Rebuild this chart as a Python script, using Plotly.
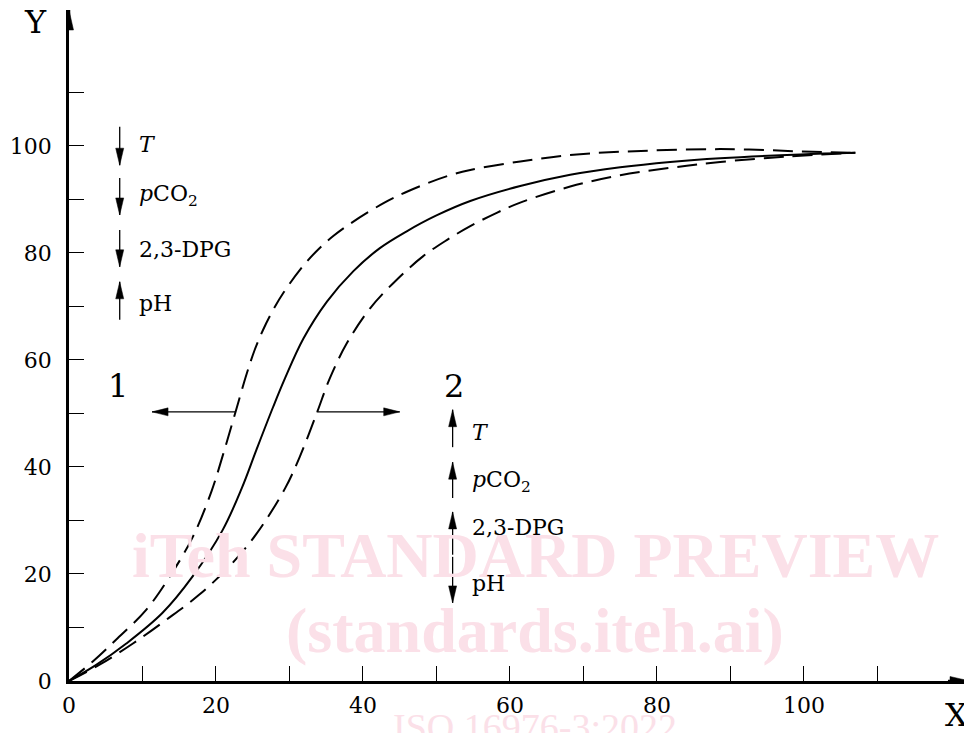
import plotly.graph_objects as go

# ---------------- data ----------------
solid_x = [0, 3.7, 7.8, 12.7, 16.8, 20.9, 23.5, 25.5, 27.8, 29.4, 31.9, 35.1, 38.7, 42.3, 45.9,
           50.0, 54.6, 61.4, 68.2, 75.0, 81.8, 88.6, 99.5, 107.0]
solid_y = [0, 3.0, 7.0, 12.7, 19.5, 28.2, 36.0, 43.2, 51.3, 56.6, 64.0, 70.9, 76.6, 80.9, 84.0,
           87.0, 89.7, 92.5, 94.6, 96.0, 97.0, 97.7, 98.4, 98.7]

left_x = [0, 3.2, 6.4, 10.5, 13.6, 16.8, 19.4, 21.0, 22.6, 24.2, 25.3, 26.4, 27.8, 29.2, 32.3,
          36.0, 42.8, 47.8, 51.8, 54.6, 61.4, 68.2, 75.0, 88.6, 101.2, 107.0]
left_y = [0, 3.6, 7.7, 13.3, 19.3, 26.8, 35.5, 42.5, 50.0, 57.5, 62.0, 65.6, 69.4, 72.6, 78.3,
          83.2, 89.3, 92.5, 94.5, 95.5, 97.1, 98.3, 98.9, 99.4, 98.9, 98.7]

right_x = [0, 4.1, 8.7, 13.2, 17.7, 21.8, 25.4, 29.4, 31.4, 33.7, 35.5, 37.8, 41.0, 44.6, 48.2,
           51.4, 54.6, 58.2, 61.4, 68.2, 75.0, 81.8, 88.6, 97.6, 107.0]
right_y = [0, 3.0, 7.0, 11.4, 16.1, 21.4, 27.3, 36.0, 41.9, 50.0, 56.6, 63.1, 69.7, 75.0, 79.4,
           82.4, 85.0, 87.5, 89.4, 92.4, 94.5, 95.9, 97.0, 98.0, 98.7]

x_tick_vals = [0, 10, 20, 30, 40, 50, 60, 70, 80, 90, 100, 110]
x_tick_text = ["0", "", "20", "", "40", "", "60", "", "80", "", "100", ""]
y_tick_vals = [0, 10, 20, 30, 40, 50, 60, 70, 80, 90, 100, 110]
y_tick_text = ["0", "", "20", "", "40", "", "60", "", "80", "", "100", ""]

factor_labels = ["<i>T</i>", "<i>p</i>CO<sub>2</sub>", "2,3-DPG", "pH"]

# ---------------- layout constants ----------------
W, H = 972, 733
OFF = 8                       # page body margin in the browser
# target plot box in page pixels: left 69, right 970, top 10, bottom 681
ML, MR, MT, MB = 69 - OFF, W + OFF - 970, 10 - OFF, H + OFF - 681
X_MAX = 122.6
Y_MAX = 125.4
FONT = "DejaVu Serif"
PINK = "rgb(251,224,232)"
pw, ph = W - ML - MR, H - MT - MB


def px2paper(px, py):
    """page pixel -> paper coordinates"""
    return (px - OFF - ML) / pw, (H - MB - (py - OFF)) / ph


fig = go.Figure()

line_style = dict(color="black", width=2, shape="spline", smoothing=1)
fig.add_trace(go.Scatter(x=solid_x, y=solid_y, mode="lines", line=line_style, hoverinfo="skip"))
fig.add_trace(go.Scatter(x=left_x, y=left_y, mode="lines",
                         line=dict(line_style, dash="20px,9px"), hoverinfo="skip"))
fig.add_trace(go.Scatter(x=right_x, y=right_y, mode="lines",
                         line=dict(line_style, dash="20px,9px"), hoverinfo="skip"))

shapes = []
annotations = []

# watermark first (drawn beneath the other texts)
wm = [("<b>iTeh STANDARD PREVIEW</b>", 535, 555, 64),
      ("<b>(standards.iteh.ai)</b>", 535, 630, 64),
      ("ISO 16976-3:2022", 535, 727, 38)]
for txt, px, py, sz in wm:
    xx, yy = px2paper(px, py)
    annotations.append(dict(x=xx, y=yy, xref="paper", yref="paper", text=txt, showarrow=False,
                            xanchor="center", yanchor="middle",
                            font=dict(family="Liberation Serif", size=sz, color=PINK)))


def arrow(x0, y0, x1, y1, direction, width=1.3, hl=17, hw=4):
    """line from (x0,y0) to tip (x1,y1) plus a pixel-sized arrowhead at the tip"""
    shapes.append(dict(type="line", xref="x", yref="y", x0=x0, y0=y0, x1=x1, y1=y1,
                       line=dict(color="black", width=width), layer="above"))
    if direction == "up":
        path = f"M0,0 L{-hw},{-hl} L{hw},{-hl} Z"
    elif direction == "down":
        path = f"M0,0 L{-hw},{hl} L{hw},{hl} Z"
    elif direction == "left":
        path = f"M0,0 L{hl},{-hw} L{hl},{hw} Z"
    else:
        path = f"M0,0 L{-hl},{-hw} L{-hl},{hw} Z"
    shapes.append(dict(type="path", xref="x", yref="y", xsizemode="pixel", ysizemode="pixel",
                       xanchor=x1, yanchor=y1, path=path, fillcolor="black",
                       line=dict(color="black", width=0.5), layer="above"))


# axis arrowheads
arrow(0, Y_MAX - 3, 0, Y_MAX, "up", width=2.5, hl=20, hw=4.5)
arrow(X_MAX - 3, 0, X_MAX, 0, "right", width=2.5, hl=20, hw=4.5)

# shift arrows (1 = left, 2 = right)
arrow(22.6, 50.3, 11.3, 50.3, "left", hl=16, hw=4)
arrow(33.7, 50.3, 45.0, 50.3, "right", hl=16, hw=4)

label_font = dict(family=FONT, size=22, color="black")

# factor arrows, group 1 (upper left)
g1_x = 6.9
g1 = [(103.6, 96.4, "down"), (94.0, 87.1, "down"), (84.3, 77.4, "down"), (67.5, 74.6, "up")]
g1_text_y = [100.2, 90.7, 80.6, 70.5]
for (yt, yh, d), ty, lab in zip(g1, g1_text_y, factor_labels):
    arrow(g1_x, yt, g1_x, yh, d)
    annotations.append(dict(x=g1_x, y=ty, xref="x", yref="y", text=lab, showarrow=False,
                            xanchor="left", yanchor="middle", xshift=17, font=label_font))

# factor arrows, group 2 (lower right)
g2_x = 52.2
g2 = [(43.7, 50.7, "up"), (34.2, 40.9, "up"), (23.6, 31.6, "up"), (23.2, 14.6, "down")]
g2_text_y = [46.5, 37.2, 28.6, 18.3]
for (yt, yh, d), ty, lab in zip(g2, g2_text_y, factor_labels):
    arrow(g2_x, yt, g2_x, yh, d)
    annotations.append(dict(x=g2_x, y=ty, xref="x", yref="y", text=lab, showarrow=False,
                            xanchor="left", yanchor="middle", xshift=17, font=label_font))

# curve group labels
big_font = dict(family=FONT, size=32, color="black")
annotations.append(dict(x=6.7, y=55.1, xref="x", yref="y", text="1", showarrow=False,
                        xanchor="center", yanchor="middle", font=big_font))
annotations.append(dict(x=52.4, y=55.1, xref="x", yref="y", text="2", showarrow=False,
                        xanchor="center", yanchor="middle", font=big_font))

# axis names
for txt, px, py in [("Y", 35, 22), ("X", 956, 715)]:
    xx, yy = px2paper(px, py)
    annotations.append(dict(x=xx, y=yy, xref="paper", yref="paper", text=txt, showarrow=False,
                            xanchor="center", yanchor="middle",
                            font=dict(family=FONT, size=32, color="black")))

fig.update_layout(
    width=W, height=H,
    margin=dict(l=ML, r=MR, t=MT, b=MB, autoexpand=False),
    paper_bgcolor="white", plot_bgcolor="white",
    showlegend=False,
    shapes=shapes,
    annotations=annotations,
    xaxis=dict(range=[0, X_MAX], showgrid=False, zeroline=False, showline=True, automargin=False,
               linecolor="black", linewidth=2.5, ticks="inside", ticklen=15, tickwidth=1.3,
               tickcolor="black", tickvals=x_tick_vals, ticktext=x_tick_text,
               tickfont=dict(family=FONT, size=22, color="black"), ticklabelstandoff=3),
    yaxis=dict(range=[0, Y_MAX], showgrid=False, zeroline=False, showline=True, automargin=False,
               linecolor="black", linewidth=2.5, ticks="inside", ticklen=15, tickwidth=1.3,
               tickcolor="black", tickvals=y_tick_vals, ticktext=y_tick_text,
               tickfont=dict(family=FONT, size=22, color="black"), ticklabelstandoff=10),
)

fig.write_html("out.html")
